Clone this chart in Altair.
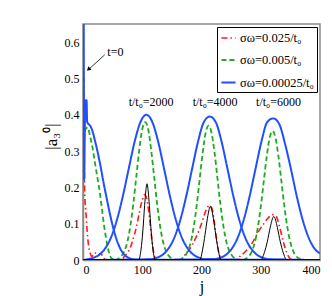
import altair as alt
import pandas as pd

# ---- data ----
LAB_R = "σω=0.025/t₀"
LAB_G = "σω=0.005/t₀"
LAB_B = "σω=0.00025/t₀"

red_t0_j = [0, 1, 2, 3, 5, 7, 9, 12, 15, 20, 25, 30, 35, 40, 400]
red_t0_v = [0.54, 0.52, 0.30, 0.18, 0.13, 0.08, 0.045, 0.02, 0.01, 0.02, 0.012, 0.018, 0.005, 0, 0]
red_2000_j = [0, 65, 70, 75, 80, 85, 90, 95, 100, 104, 108, 112, 116, 120, 125, 400]
red_2000_v = [0, 0, 0.01, 0.02, 0.035, 0.06, 0.09, 0.13, 0.165, 0.18, 0.165, 0.12, 0.06, 0.015, 0, 0]
red_4000_j = [0, 165, 170, 180, 190, 200, 205, 210, 214, 218, 222, 226, 230, 235, 400]
red_4000_v = [0, 0, 0.01, 0.03, 0.06, 0.10, 0.125, 0.145, 0.15, 0.14, 0.10, 0.05, 0.015, 0, 0]
red_6000_j = [0, 258, 265, 275, 285, 295, 305, 312, 320, 326, 332, 338, 344, 350, 355, 400]
red_6000_v = [0, 0, 0.01, 0.025, 0.045, 0.075, 0.10, 0.115, 0.125, 0.12, 0.09, 0.05, 0.02, 0.003, 0, 0]

green_t0_j = [0, 2, 4, 8, 12, 16, 20, 24, 28, 32, 36, 40, 44, 48, 55, 400]
green_t0_v = [0.2, 0.33, 0.36, 0.365, 0.34, 0.31, 0.27, 0.23, 0.19, 0.14, 0.09, 0.05, 0.02, 0.005, 0, 0]
green_2000_j = [0, 55, 60, 65, 70, 75, 80, 85, 90, 95, 100, 105, 110, 115, 120, 125, 130, 135, 140, 145, 150, 155, 400]
green_2000_v = [0, 0, 0.004, 0.011, 0.025, 0.051, 0.095, 0.156, 0.23, 0.304, 0.36, 0.38, 0.36, 0.304, 0.23, 0.156, 0.095, 0.051, 0.025, 0.011, 0.004, 0, 0]
green_4000_j = [0, 162, 167, 172, 177, 182, 187, 192, 197, 202, 207, 212, 217, 222, 227, 232, 237, 242, 247, 252, 257, 262, 400]
green_4000_v = [0, 0, 0.004, 0.011, 0.025, 0.05, 0.093, 0.152, 0.224, 0.296, 0.35, 0.37, 0.35, 0.296, 0.224, 0.152, 0.093, 0.05, 0.025, 0.011, 0.004, 0, 0]
green_6000_j = [0, 270, 275, 280, 285, 290, 295, 300, 305, 310, 315, 320, 325, 330, 335, 340, 345, 350, 355, 360, 365, 370, 400]
green_6000_v = [0, 0, 0.004, 0.01, 0.024, 0.048, 0.089, 0.146, 0.215, 0.284, 0.336, 0.355, 0.336, 0.284, 0.215, 0.146, 0.089, 0.048, 0.024, 0.01, 0.004, 0, 0]

blue_t0_j = [0, 1, 1.5, 2, 3, 4, 5, 6, 7, 9, 12, 15, 20, 25, 30, 35, 40, 45, 50, 55, 60, 65, 70, 80, 90, 400]
blue_t0_v = [0.70, 0.70, 0.45, 0.22, 0.35, 0.44, 0.40, 0.44, 0.38, 0.375, 0.37, 0.36, 0.33, 0.295, 0.255, 0.21, 0.17, 0.13, 0.095, 0.065, 0.042, 0.025, 0.014, 0.004, 0, 0]
blue_2000_j = [0, 17, 27, 37, 47, 57, 67, 77, 87, 97, 107, 117, 127, 137, 147, 157, 167, 177, 187, 197, 207, 400]
blue_2000_v = [0, 0.006, 0.014, 0.031, 0.061, 0.109, 0.174, 0.25, 0.325, 0.38, 0.40, 0.38, 0.325, 0.25, 0.174, 0.109, 0.061, 0.031, 0.014, 0.006, 0.002, 0]
blue_4000_j = [0, 114, 124, 134, 144, 154, 164, 174, 184, 194, 204, 214, 224, 234, 244, 254, 264, 274, 284, 294, 304, 314, 400]
blue_4000_v = [0, 0.002, 0.006, 0.014, 0.031, 0.061, 0.109, 0.174, 0.25, 0.325, 0.38, 0.395, 0.38, 0.325, 0.25, 0.174, 0.109, 0.061, 0.031, 0.014, 0.006, 0.002, 0]
blue_6000_j = [0, 221, 231, 241, 251, 261, 271, 281, 291, 301, 311, 321, 331, 341, 351, 361, 371, 381, 391, 400]
blue_6000_v = [0, 0.002, 0.006, 0.014, 0.031, 0.061, 0.109, 0.174, 0.25, 0.325, 0.38, 0.39, 0.375, 0.32, 0.25, 0.174, 0.109, 0.061, 0.031, 0.018]

black_2000_j = [0, 94, 98, 101, 104, 106, 108, 110, 112, 115, 118, 122, 400]
black_2000_v = [0, 0, 0.03, 0.08, 0.15, 0.19, 0.21, 0.19, 0.15, 0.08, 0.03, 0, 0]
black_4000_j = [0, 197, 202, 206, 210, 213, 215, 217, 220, 224, 228, 233, 400]
black_4000_v = [0, 0, 0.03, 0.07, 0.115, 0.14, 0.148, 0.14, 0.115, 0.07, 0.03, 0, 0]
black_6000_j = [0, 300, 306, 311, 316, 319, 322, 325, 328, 333, 338, 344, 400]
black_6000_v = [0, 0, 0.02, 0.05, 0.09, 0.11, 0.12, 0.11, 0.09, 0.05, 0.02, 0, 0]

time_labels = ["t/t₀=2000", "t/t₀=4000", "t/t₀=6000"]
time_label_j = [115, 223, 330]
time_label_y = [0.425, 0.425, 0.425]
t0_label = ["t=0"]
t0_label_j = [41]
t0_label_y = [0.563]
arrow_j = [36.6]
arrow_y = [0.565]
arrow_j2 = [11]
arrow_y2 = [0.527]
head_j = [10]
head_y = [0.526]

# ---- build tables ----
rows = []
def add(series, curve, js, vs):
    for j, v in zip(js, vs):
        rows.append({"series": series, "curve": curve, "j": j, "v": v})

add(LAB_R, "r0", red_t0_j, red_t0_v)
add(LAB_R, "r1", red_2000_j, red_2000_v)
add(LAB_R, "r2", red_4000_j, red_4000_v)
add(LAB_R, "r3", red_6000_j, red_6000_v)
add(LAB_G, "g0", green_t0_j, green_t0_v)
add(LAB_G, "g1", green_2000_j, green_2000_v)
add(LAB_G, "g2", green_4000_j, green_4000_v)
add(LAB_G, "g3", green_6000_j, green_6000_v)
add(LAB_B, "b0", blue_t0_j, blue_t0_v)
add(LAB_B, "b1", blue_2000_j, blue_2000_v)
add(LAB_B, "b2", blue_4000_j, blue_4000_v)
add(LAB_B, "b3", blue_6000_j, blue_6000_v)
df = pd.DataFrame(rows)

brows = []
for c, js, vs in [("k1", black_2000_j, black_2000_v), ("k2", black_4000_j, black_4000_v), ("k3", black_6000_j, black_6000_v)]:
    for j, v in zip(js, vs):
        brows.append({"curve": c, "j": j, "v": v})
dfk = pd.DataFrame(brows)

dft = pd.DataFrame({"t": time_labels, "j": time_label_j, "v": time_label_y})
df0 = pd.DataFrame({"t": t0_label, "j": t0_label_j, "v": t0_label_y})
dfa = pd.DataFrame({"j": arrow_j, "v": arrow_y, "j2": arrow_j2, "v2": arrow_y2})
dfh = pd.DataFrame({"j": head_j, "v": head_y})

SERIF = "Liberation Serif"
xs = alt.Scale(domain=[0, 400], nice=False)
ys = alt.Scale(domain=[0, 0.65], nice=False)
order = [LAB_R, LAB_G, LAB_B]

x_axis = alt.Axis(values=[0, 100, 200, 300, 400], title="j", titleFontSize=16, labelFont=SERIF, titleFont=SERIF,
                  labelFontSize=12, titleY=31, titleBaseline="alphabetic", labelOverlap=False, format="d")
y_axis = alt.Axis(values=[0, 0.1, 0.2, 0.3, 0.4, 0.5, 0.6], title="|a₃⁰|", titleFontSize=17, labelFont=SERIF,
                  titleFont=SERIF, labelFontSize=12, titleX=-32, titleY=112, titleBaseline="middle",
                  labelOverlap=False, tickCount=7,
                  labelExpr="datum.value == 0 ? '0' : format(datum.value, '.1f')")

def X():
    return alt.X("j:Q", scale=xs, axis=x_axis)

def Y():
    return alt.Y("v:Q", scale=ys, axis=y_axis)

lines = alt.Chart(df).mark_line(interpolate="monotone", clip=True).encode(
    x=X(),
    y=Y(),
    detail="curve:N",
    color=alt.Color("series:N", scale=alt.Scale(domain=order, range=["#ff1a1a", "#1faa1f", "#1f4fff"]),
                    legend=alt.Legend(title=None, orient="top-right", offset=3)),
    strokeDash=alt.StrokeDash("series:N", scale=alt.Scale(domain=order, range=[[6, 3, 1.5, 3], [5, 3], [1, 0]]),
                              legend=alt.Legend(title=None, orient="top-right", offset=3)),
    strokeWidth=alt.StrokeWidth("series:N", scale=alt.Scale(domain=order, range=[1.6, 2, 2]), legend=None),
)

black = alt.Chart(dfk).mark_line(interpolate="monotone", color="black", strokeWidth=1, clip=True).encode(
    x=X(), y=Y(), detail="curve:N")

tlabels = alt.Chart(dft).mark_text(font=SERIF, fontSize=12, color="black", baseline="alphabetic").encode(
    x=X(), y=Y(), text="t:N")
t0 = alt.Chart(df0).mark_text(font=SERIF, fontSize=12, color="black", align="left", baseline="alphabetic").encode(
    x=X(), y=Y(), text="t:N")
arrow = alt.Chart(dfa).mark_rule(color="black", strokeWidth=0.8).encode(
    x=X(), y=Y(), x2="j2:Q", y2="v2:Q")
head = alt.Chart(dfh).mark_point(shape="triangle", filled=True, color="black", size=22, angle=228, opacity=1).encode(
    x=X(), y=Y())

chart = alt.layer(lines, black, tlabels, t0, arrow, head).properties(
    width=237, height=236,
    autosize=alt.AutoSizeParams(type="none"),
    padding={"left": 75, "top": 16, "right": 4, "bottom": 36},
    background="white",
).configure_view(stroke="#8a8a8a", strokeWidth=1.5).configure_axis(
    labelColor="black", titleColor="black",
    titleFontWeight="normal", grid=False, ticks=False, domainColor="#8a8a8a", domainWidth=1.5, labelPadding=4,
).configure_legend(
    labelFont=SERIF, labelFontSize=12.5, labelColor="black", fillColor="white", strokeColor="black",
    padding=3, symbolType="stroke", symbolSize=200, symbolStrokeWidth=1.8, rowPadding=7, symbolOffset=0, labelOffset=3,
    cornerRadius=0,
)

chart.save("out.html", embed_options={"renderer": "svg", "actions": False})
